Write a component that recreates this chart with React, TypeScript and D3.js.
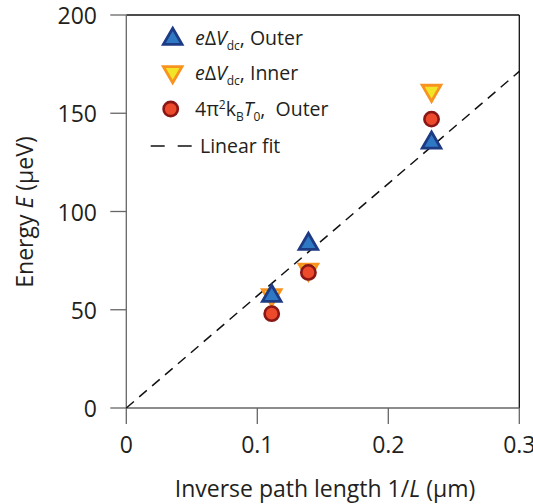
import React from "react";
import * as d3 from "d3";

const xTicks = [0, 0.1, 0.2, 0.3];
const xTickLabels = ["0", "0.1", "0.2", "0.3"];
const yTicks = [0, 50, 100, 150, 200];
const yTickLabels = ["0", "50", "100", "150", "200"];

const invL = [0.111, 0.139, 0.233];
const outerDV = [57.5, 84, 135.5];
const innerDV = [57, 70, 161];
const outerT0 = [48, 69, 147];
const fitSlope = 571;

const W = 533, H = 504;
const m = { left: 126.3, right: 519.3, top: 15, bottom: 408 };
const FONT = "'Open Sans', 'Noto Sans', sans-serif";

export default function App() {
  const x = d3.scaleLinear().domain([0, 0.3]).range([m.left, m.right]);
  const y = d3.scaleLinear().domain([0, 200]).range([m.bottom, m.top]);
  const line = d3.line<number>().x((d) => x(d)).y((d) => y(d * fitSlope));
  const sym = (type: any, size: number) => d3.symbol().type(type).size(size)()!;
  const triUp = sym(d3.symbolTriangle, 150);
  const circ = sym(d3.symbolCircle, 160);

  const TriUp = ({ cx, cy }: { cx: number; cy: number }) => (
    <path d={triUp} transform={`translate(${cx},${cy + 1})`} fill="#2f78c4" stroke="#1d3a85" strokeWidth={2.8} strokeLinejoin="miter" />
  );
  const TriDown = ({ cx, cy }: { cx: number; cy: number }) => (
    <path d={triUp} transform={`translate(${cx},${cy - 1}) rotate(180)`} fill="#f2e426" stroke="#f7931e" strokeWidth={2.8} />
  );
  const Circ = ({ cx, cy }: { cx: number; cy: number }) => (
    <path d={circ} transform={`translate(${cx},${cy})`} fill="#ec4a2a" stroke="#8a1616" strokeWidth={2.6} />
  );

  const fs = 19.5;
  const sub = 12;
  const legX = 195;
  const axFs = 23;
  return (
    <svg width={W} height={H} style={{ position: "absolute", left: 0, top: 0 }} fontFamily={FONT}>
      <rect x={0} y={0} width={W} height={H} fill="white" />
      {/* frame */}
      <line x1={m.left} x2={m.right} y1={m.top} y2={m.top} stroke="#111" strokeWidth={1.3} />
      <line x1={m.right} x2={m.right} y1={m.top} y2={m.bottom} stroke="#111" strokeWidth={1.3} />
      <line x1={m.left} x2={m.left} y1={m.top} y2={m.bottom} stroke="#666" strokeWidth={1.3} />
      <line x1={m.left} x2={m.right} y1={m.bottom} y2={m.bottom} stroke="#666" strokeWidth={1.3} />
      {/* y ticks */}
      {yTicks.map((t, i) => (
        <g key={"y" + i}>
          <line x1={m.left - 16} x2={m.left} y1={y(t)} y2={y(t)} stroke="#666" strokeWidth={1.3} />
          <text x={97} y={y(t) + 1} dy="0.35em" textAnchor="end" fontSize={axFs} fill="#231f20">{yTickLabels[i]}</text>
        </g>
      ))}
      {xTicks.map((t, i) => (
        <g key={"x" + i}>
          <line x1={x(t)} x2={x(t)} y1={m.bottom} y2={m.bottom + 16} stroke="#666" strokeWidth={1.3} />
          <text x={x(t)} y={453} textAnchor="middle" fontSize={axFs} fill="#231f20">{xTickLabels[i]}</text>
        </g>
      ))}
      {/* fit line */}
      <path d={line([0, 0.3])!} fill="none" stroke="#111" strokeWidth={1.5} strokeDasharray="10,7" />
      {/* data */}
      {invL.map((v, i) => <TriDown key={"i" + i} cx={x(v)} cy={y(innerDV[i])} />)}
      {invL.map((v, i) => <Circ key={"c" + i} cx={x(v)} cy={y(outerT0[i])} />)}
      {invL.map((v, i) => <TriUp key={"o" + i} cx={x(v)} cy={y(outerDV[i])} />)}
      {/* legend */}
      <TriUp cx={172.7} cy={38} />
      <text x={legX} y={38} dy="0.35em" fontSize={fs} fill="#231f20">
        <tspan fontStyle="italic">e</tspan>Δ<tspan fontStyle="italic">V</tspan>
        <tspan fontSize={sub} dy={5}>dc</tspan><tspan dy={-5}>, Outer</tspan>
      </text>
      <TriDown cx={172.7} cy={73} />
      <text x={legX} y={73} dy="0.35em" fontSize={fs} fill="#231f20">
        <tspan fontStyle="italic">e</tspan>Δ<tspan fontStyle="italic">V</tspan>
        <tspan fontSize={sub} dy={5}>dc</tspan><tspan dy={-5}>, Inner</tspan>
      </text>
      <Circ cx={170.7} cy={109} />
      <text x={legX} y={109} dy="0.35em" fontSize={fs} fill="#231f20">
        4π<tspan fontSize={sub} dy={-7}>2</tspan><tspan dy={7}>k</tspan>
        <tspan fontSize={sub} dy={5}>B</tspan><tspan fontStyle="italic" dy={-5}>T</tspan>
        <tspan fontSize={sub} dy={5}>0</tspan><tspan dy={-5}>,{"\u00A0 "}Outer</tspan>
      </text>
      <line x1={150.7} x2={191.7} y1={146} y2={146} stroke="#111" strokeWidth={1.5} strokeDasharray="14,13" />
      <text x={200} y={146} dy="0.35em" fontSize={fs} fill="#231f20">Linear fit</text>
      {/* axis titles */}
      <text x={325} y={497} textAnchor="middle" fontSize={axFs} fill="#231f20">
        Inverse path length 1/<tspan fontStyle="italic">L</tspan> (μm)
      </text>
      <text transform={`translate(33,212) rotate(-90)`} textAnchor="middle" fontSize={axFs} fill="#231f20">
        Energy <tspan fontStyle="italic">E</tspan> (μeV)
      </text>
    </svg>
  );
}
